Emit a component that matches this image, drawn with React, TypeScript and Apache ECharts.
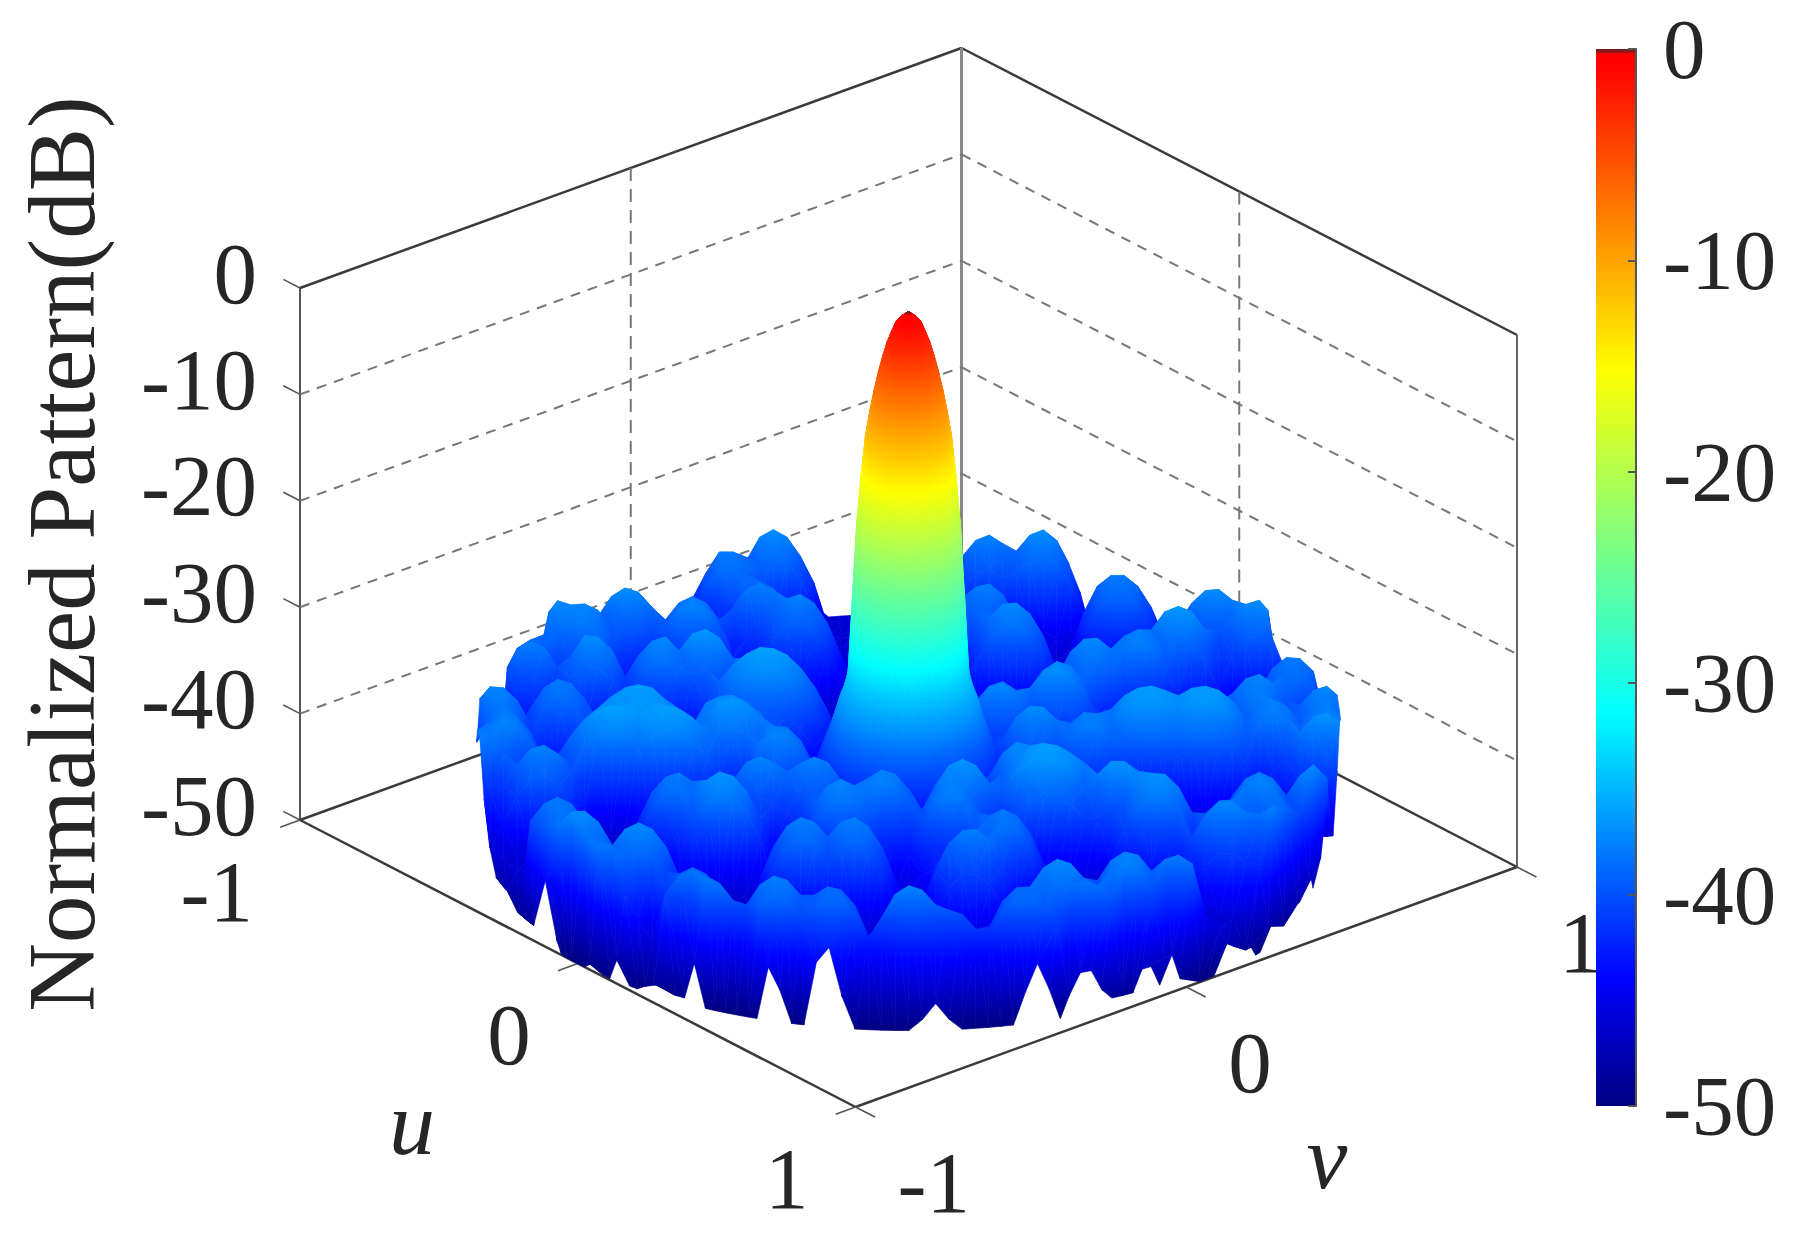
import React, { useEffect, useRef } from 'react'
import * as echarts from 'echarts'

const zTicks = [0, -10, -20, -30, -40, -50]
const uTicks = [-1, 0, 1]
const vTicks = [-1, 0, 1]
const zGridLines = [-10, -20, -30, -40]

// colour bar knots: [dB, colour]
const barKnots: [number, string][] = [
    [-50, '#000080'],
    [-44, '#0000ff'],
    [-31.4, '#00ffff'],
    [-15.2, '#ffff00'],
    [-0.7, '#ff0000'],
    [-0.25, '#ff0000'],
    [-0.1, '#7a1c1c'],
    [0, '#7a1c1c'],
]

// main lobe, read as a radial profile
const lobeRadii = [0, 0.01, 0.02, 0.03, 0.04, 0.05, 0.06, 0.07, 0.08, 0.09, 0.1, 0.11, 0.12, 0.13, 0.14, 0.15, 0.16, 0.18, 0.2, 0.22, 0.24, 0.26]
const lobeDb = [0, -0.3, -0.6, -1.1, -2, -3, -4.3, -5.8, -7.5, -9.5, -11.8, -15.5, -20, -27, -34, -35.5, -36.5, -39, -41, -43, -45, -46.5]

// side lobes in dB, one row per depth step on screen (back to front), each row centred on the middle column
const surfaceRows: number[][] = [
    [-42.5, -41, -40, -41, -42.5, -45, -46, -46, -46, -46, -46, -46, -46, -46, -46, -44, -41.5, -40, -40, -40.5, -41, -40.5, -40, -41, -42.5],
    [-46, -44, -42.5, -42, -39.5, -37.7, -37, -37.7, -39.5, -42, -46, -46, -46, -46, -46, -46, -46, -46, -45, -42, -39.5, -38, -37.5, -38.3, -39, -37.5, -37, -38, -40, -42.5, -46, -46, -46],
    [-46, -46, -46, -46, -42, -40, -38, -38, -38.7, -39, -38.4, -39, -40.6, -43.4, -46, -46, -46, -46, -46, -46, -46, -46, -46, -44, -41.5, -40, -39.7, -40.5, -40, -38.8, -38.4, -39, -41, -44, -46, -46, -46, -46, -46, -46, -46],
    [-46, -46, -46, -46, -46, -46, -42.7, -40, -38.7, -38.3, -39, -41, -43.5, -44.5, -45, -46, -46, -46, -46, -46, -46, -46, -46, -46, -46, -46, -46, -46, -46, -46, -46, -44.7, -44.3, -45, -46, -45, -42.7, -41.5, -41.4, -42.4, -44.5, -46, -46, -46, -46],
    [-46, -46, -46, -46, -46, -46, -46, -46, -46, -45, -43.6, -40.8, -39.2, -38.6, -39.2, -40.8, -43.6, -46, -46, -46, -46, -46, -46, -46, -46, -46, -46, -44.5, -42, -41, -41, -42, -44, -46, -46, -46, -45, -41.5, -39, -38, -38, -39, -41, -44, -46, -46, -45, -45, -46],
    [-46, -46, -45, -42, -40, -39, -39.5, -41, -43.5, -43.5, -42.7, -43.3, -42.7, -40, -38.3, -37.7, -38.3, -40, -41, -41.5, -43.4, -46, -46, -46, -46, -46, -46, -46, -45, -41.5, -39, -38, -37.7, -38.7, -41, -44, -46, -46, -46, -42.4, -40, -38.8, -38.7, -39.7, -42, -45.5, -42.6, -40.2, -39, -38.9, -40, -42.4, -46],
    [-46, -41, -40.4, -40.6, -41, -39.7, -37.8, -37, -37.4, -38.8, -40, -38.4, -37.8, -38.4, -40, -43, -41.9, -41.3, -39.4, -38, -37.6, -38.4, -40.3, -43.3, -46, -46, -46, -46, -46, -46, -46, -42, -40.3, -39, -39, -40, -41, -42, -44, -46, -46, -46, -46, -46, -46, -46, -46, -43, -41, -38.4, -37.2, -37.1, -38.1, -39.6, -39.2, -40, -42],
    [-40, -38, -37.1, -37.5, -37.4, -38, -39.7, -39.2, -39.6, -41, -39.6, -38, -37.4, -38, -39.6, -42.4, -46, -43.3, -40.7, -39.3, -39, -39.7, -41.6, -44.5, -46, -46, -46, -46, -46, -46, -46, -46, -44.5, -41, -38.6, -37.4, -37.3, -38.3, -40.4, -43.7, -46, -46, -46, -46, -46, -44, -41.4, -39.8, -39.2, -39.8, -39.9, -39.8, -38.8, -37.4, -37, -37.8, -40],
    [-46, -46, -42, -39.2, -38.4, -38, -37.8, -38.4, -40, -42.9, -46, -46, -43.6, -42, -41.4, -42, -43.6, -46, -46, -46, -46, -45, -44.8, -45.6, -46, -46, -46, -46, -46, -46, -46, -46, -46, -46, -45.4, -41.9, -39.5, -38.3, -38.2, -39.2, -41.3, -44.6, -46, -46, -46, -44.2, -42.6, -41.5, -38.7, -37, -36.5, -37, -38.7, -41.5, -41, -39.6, -39.2, -40, -42, -45, -46],
    [-41, -39.2, -38.6, -39.2, -41, -41, -40, -39.9, -41.2, -44, -42.6, -41.2, -40.8, -40, -38.7, -38.3, -39.1, -41, -44, -46, -46, -46, -46, -46, -46, -46, -46, -46, -46, -46, -46, -46, -46, -46, -46, -46, -46, -46, -46, -46, -46, -44.6, -42.2, -41, -41, -40, -38.2, -37.6, -38.2, -38.9, -38.3, -38.9, -40.5, -43.3, -46, -46, -46, -46, -46, -46, -46],
    [-46, -43, -40, -38.3, -37.7, -38.3, -40, -39, -37.1, -37.2, -38.4, -41, -39, -37.6, -37.2, -38.5, -36.9, -36.5, -37.3, -39.2, -41.9, -41.4, -41.5, -42.1, -43.3, -45, -46, -46, -46, -46, -46, -46, -46, -46, -46, -46, -46, -46, -46, -46, -46, -46, -44.5, -41, -38.6, -37.4, -37.3, -38.3, -38.2, -37.6, -38.2, -40, -42.6, -46, -46, -46, -46, -46, -45, -43, -42, -42.1, -43.3, -45.7, -46],
    [-46, -46, -43.5, -41.9, -41.3, -41.9, -42, -39.9, -38.9, -39, -40.2, -42.6, -40.2, -38.5, -38.1, -38.9, -39.6, -39.2, -40, -39.2, -38.2, -37.6, -37.7, -38.3, -39.5, -41.2, -43.5, -46, -46, -46, -46, -46, -46, -46, -46, -46, -46, -46, -46, -46, -46, -45, -43, -41.9, -39.5, -38.3, -38.2, -39.2, -41.3, -42, -42.6, -46, -46, -46, -46, -46, -46, -44.4, -41.1, -39, -38, -38.1, -39.3, -41.7, -45],
    [-46, -46, -46, -46, -44.6, -42.7, -41.9, -42.2, -43.7, -46, -46, -46, -45.3, -43.9, -43.5, -44.3, -44.2, -41.4, -39.2, -37.6, -36.6, -36, -36.1, -36.7, -37.9, -39.6, -41.9, -44.8, -46, -46, -46, -46, -46, -46, -46, -46, -46, -45.3, -43.9, -43.5, -43, -40, -38.1, -37.3, -37.7, -39.1, -41.7, -45.3, -46, -46, -46, -46, -46, -46, -46, -45.8, -43.2, -41.8, -41.4, -39.4, -38.4, -38.5, -39.7, -42.1, -45.5],
    [-42.5, -41.5, -41.6, -42.8, -40.6, -38.7, -37.9, -38.3, -39.7, -42.1, -43.6, -42.8, -42.5, -42.8, -43.6, -44.9, -44.9, -42, -39.9, -38.3, -37.3, -36.8, -36.8, -37.4, -38.6, -40.3, -42.6, -45.5, -46, -46, -46, -46, -46, -46, -46, -46, -42.5, -39.9, -38.5, -38.1, -38.9, -38.7, -37.3, -36.9, -37.5, -39.1, -41.8, -45.5, -44.8, -43.4, -43, -43.6, -43.9, -43.4, -43, -41.8, -39.2, -37.8, -37.4, -38.2, -39.8, -41.5, -41.8, -41.4, -42],
    [-38.6, -37.5, -37.6, -38.8, -41, -39.1, -38.3, -38.7, -40.1, -40.7, -39.3, -38.5, -38.2, -38.5, -39.3, -40.7, -42, -40.8, -40.2, -40.1, -40, -39.6, -39.7, -40.3, -41.5, -43.2, -45.5, -46, -46, -46, -46, -46, -46, -46, -46, -45.3, -41.6, -39, -37.6, -37.2, -38.1, -40, -41.3, -40.9, -41.4, -42.9, -42.5, -40.7, -39.4, -38.7, -38.5, -38.9, -39.4, -38.7, -38.5, -38.9, -39.5, -38.2, -37.8, -38.6, -40.2, -39.2, -37.8, -37.4, -38.2],
    [-41, -38.6, -38, -39.2, -41.6, -44, -44, -43.2, -40.7, -38.7, -37.3, -36.5, -36.2, -36.5, -37.6, -38.7, -40.7, -37.9, -37.3, -37.2, -37.8, -38.8, -40.4, -42.6, -45.4, -46, -46, -46, -46, -46, -46, -46, -46, -46, -46, -46, -45, -42.6, -41.1, -40.9, -40.3, -39.3, -39.4, -41.1, -42.8, -42, -40.3, -38.5, -37.2, -36.5, -36.3, -36.7, -37.2, -36.5, -36.3, -36.7, -37.7, -39.2, -38.1, -37.6, -38.2, -39.6, -38.2, -37.8, -38.6],
    [-40.5, -38.6, -37.8, -38.2, -39.6, -42.2, -43.1, -39.8, -38.3, -37.3, -36.9, -36.8, -36.4, -36.7, -37.1, -37.4, -39, -38, -36.8, -36.5, -37, -38, -39.6, -42.9, -44, -46, -46, -46, -46, -46, -46, -46, -46, -46, -46, -46, -46, -46, -42.7, -40.2, -38.1, -37.1, -37.2, -38.4, -38.7, -37.7, -37.8, -38.5, -37.2, -36.5, -36.3, -36.7, -37.2, -36.5, -36.3, -36.7, -37.7, -39.2, -38.2, -37.6, -38.2, -39.4, -38, -37.6, -38.3],
    [-38.3, -38, -37.4, -37.8, -39.2, -41.8, -40.7, -38.9, -37.4, -36.4, -36, -36.2, -36.6, -36.3, -36, -36.3, -37.1, -38.2, -38.2, -38.1, -38.6, -38.9, -37.9, -38, -39.2, -41.6, -45, -46, -46, -46, -46, -46, -46, -46, -46, -46, -46, -46, -44.3, -42.3, -40.3, -39.3, -39.4, -40.8, -38.7, -37.7, -37.8, -39, -39.4, -38.7, -38.5, -38.9, -39.4, -38.7, -38.5, -38.9, -39.9, -41.4, -44, -42, -41, -38.5, -37, -36.7, -37.5],
    [-38, -38.1, -39.3, -41.6, -40.6, -40.2, -42.4, -40.3, -38.8, -37.8, -37.4, -37.6, -38.2, -37.4, -37.1, -37.4, -38.2, -39.6, -41.7, -43.9, -42.5, -38.5, -37.5, -37.6, -38.8, -41.2, -44.7, -46, -46, -46, -46, -46, -46, -46, -46, -46, -46, -46, -43.4, -41.3, -40.3, -40.4, -41.8, -44, -43.1, -42.1, -42.2, -43.4, -46, -46, -46, -46, -46, -46, -46, -46, -46, -46, -46, -46, -44, -42.1, -40.7, -40.3, -41],
    [-42.5, -42.3, -41.5, -39.3, -37.9, -37.5, -38.3, -40.2, -43.2, -46, -46, -46, -46, -46, -46, -46, -46, -46, -44.3, -41.5, -39.9, -39.3, -39.4, -40.6, -41, -40.2, -40.8, -42.4, -45.2, -46, -46, -46, -46, -46, -46, -46, -46, -43.6, -40.3, -38.2, -37.2, -37.5, -38.2, -38.4, -38.9, -40.2, -42.4, -44, -44, -45, -46, -46, -46, -46, -46, -46, -46, -46, -46, -46, -46, -46, -46, -46, -46],
    [-46, -46, -43.7, -41.1, -39.7, -39.3, -40.1, -42, -45, -46, -46, -46, -46, -43.7, -42.3, -41.9, -42.7, -44.6, -42.5, -39.7, -38, -37.5, -38, -38.9, -38.1, -37.5, -38, -39.7, -42.5, -43, -42, -42.4, -44, -44.7, -42, -40.3, -39.7, -40.3, -41, -39.1, -37.6, -36.6, -36.2, -36.4, -37.1, -38, -39.3, -38.1, -38, -39, -41.1, -44.4, -46, -46, -46, -46, -44.9, -43.3, -42.7, -43.3, -41.8, -40.3, -39.3, -39.4, -41],
    [-48, -47, -46, -46, -46, -46, -46, -46, -46, -46, -46, -46, -42.3, -39.7, -38.3, -37.9, -38.7, -40.7, -40.3, -40.7, -40.8, -40.2, -40.8, -41.4, -39.9, -39.3, -39.9, -41.4, -40.3, -38.4, -37.6, -38, -39.4, -41.6, -39, -37.2, -36.6, -37.2, -38.9, -39.3, -37.8, -36.8, -36.4, -36.6, -37.3, -39, -38, -36.8, -36.8, -37.7, -39.5, -40.5, -42, -46, -46, -42.8, -40, -38.4, -37.8, -38.4, -40, -38.1, -37.1, -46, -46],
    [-48, -48, -48, -46, -46, -46, -46, -46, -46, -46, -46, -46, -42.7, -40.1, -38.7, -38.3, -38.8, -37.5, -36.7, -37.1, -38.5, -41.1, -44.7, -46, -42.4, -39.6, -38, -37.4, -38, -38, -37.6, -38, -39.4, -40.3, -38.4, -37.6, -37.9, -39.4, -41.5, -43, -40.3, -39.3, -38.9, -39.1, -39.8, -41, -41.1, -39.9, -39.8, -37.8, -36.8, -36.9, -38.1, -40.5, -44.9, -44, -41, -38, -37.4, -38, -39.7, -40.5, -47, -47, -48],
    [-49, -49, -40.2, -38.6, -38, -38.6, -40.2, -43, -46, -46, -46, -46, -46, -43.3, -40.3, -38.4, -37.6, -38, -39.4, -42, -45.7, -46, -42.8, -40, -38.4, -37.8, -38.4, -40, -42, -42.6, -43.3, -40.3, -38.4, -37.6, -38, -39.4, -42.1, -42.5, -43, -44.8, -46, -46, -46, -46, -46, -44, -40.8, -38.7, -37.7, -37.8, -39, -41.9, -39.5, -38.3, -38.2, -39.2, -39.4, -38.6, -39, -48, -48],
    [-49, -49, -49, -39.6, -38, -38.6, -39.3, -40.3, -42.4, -46, -46, -46, -46, -46, -46, -46, -46, -46, -46, -46, -44, -42.1, -41.3, -41.7, -43, -41.7, -41.3, -42.1, -44, -46, -46, -44, -42.4, -42, -43, -40.2, -38.6, -38, -38.6, -40.2, -43, -46, -46, -46, -46, -46, -46, -46, -43.6, -43.7, -44, -40.6, -38.6, -37.4, -37.3, -38.3, -38.5, -37.7, -49, -47, -47],
    [-44, -43.5, -38.4, -37.2, -37.1, -38.1, -40.2, -40.8, -40.2, -40.8, -42.4, -45.3, -46, -46, -46, -46, -46, -43.4, -40.4, -38.5, -37.7, -38.1, -39.5, -38.1, -37.7, -38.5, -40.4, -43.4, -46, -46, -42.7, -40.3, -39.1, -39, -39.1, -38, -38.6, -40.2, -44, -46, -46, -46, -46, -46, -46, -46, -46, -46, -46, -44.6, -42.2, -41, -41, -41.9, -42.1, -48, -48],
    [-49, -50, -50, -50, -38, -38.6, -39.3, -37.7, -37.1, -37.7, -39.3, -42.1, -46, -46, -46, -46, -46, -44.3, -41.3, -39.4, -38.6, -39, -40.4, -39.5, -38.6, -39.4, -41.3, -44.3, -46, -44.9, -41.4, -39, -37.8, -37.7, -38.7, -40.9, -44.2, -46, -46, -46, -46, -46, -46, -46, -46, -46, -46, -46, -46, -46, -46, -46, -46, -49, -49, -50, -50],
    [-50, -50, -49.5, -38.1, -38.2, -38.9, -38.4, -39, -40.6, -43.4, -44.5, -45, -46, -46, -46, -46, -46, -46, -46, -46, -46, -46, -46, -46, -46, -46, -46, -46, -44.5, -42.1, -40.9, -40.8, -41.8, -44, -46, -46, -46, -46, -46, -46, -44.7, -42.8, -42, -42.4, -43.7, -42.3, -41.9, -42.7, -44.6, -46, -47.5, -48, -48],
    [-50, -50, -48, -41.6, -44, -46, -41.3, -39.7, -39.1, -39.7, -41.3, -44.1, -46, -46, -46, -46, -46, -46, -46, -46, -46, -46, -46, -46, -46, -46, -46, -46, -46, -46, -46, -46, -46, -43.5, -41.6, -40.8, -41.2, -42.6, -40.3, -38.4, -37.6, -37.9, -39.4, -38.3, -37.9, -38.7, -50, -50, -50],
    [-50, -50, -49.5, -49, -40.4, -38.8, -38.2, -38.8, -40.5, -43.5, -44.5, -42.1, -41.3, -41.7, -43.1, -44.3, -43.1, -43.2, -44.4, -46, -46, -46, -46, -46, -46, -46, -46, -46, -46, -44.4, -43.2, -39.9, -38, -37.2, -37.6, -39, -40.3, -38.4, -37.6, -38, -40, -46.5, -46.5, -49, -49],
    [-49, -49, -49.5, -49.5, -46, -38, -38.4, -40, -40.4, -38.5, -37.7, -38.1, -39.5, -39.5, -38.7, -39, -40.4, -43.2, -42.9, -41, -40.2, -40.6, -42, -44.7, -45, -46, -42.4, -40, -38.8, -38.7, -38.9, -38.1, -38.5, -38.2, -38.6, -40, -49, -49, -47, -47, -49],
    [-50, -50, -50, -50, -50, -39.4, -38.6, -39, -40.4, -39.7, -38.7, -38.8, -40, -42.4, -40.5, -38.3, -37.5, -37.9, -39.3, -39.8, -40.2, -41.6, -41.5, -40, -38.8, -38.7, -39.7, -41.3, -48, -46, -46, -48, -49],
    [-50, -45, -47, -50, -50, -44, -42.5, -47, -50, -50, -50, -50, -50, -49, -47.5, -49, -50, -50, -50, -50, -50, -47, -44.5, -47, -50],
]

// affine view of the MATLAB box, from the pixel positions of its corners
const FRONT_X = 855.5
const FRONT_Y = 1107
const U_DX = 277.75
const U_DY = 143.5
const V_DX = 330.75
const V_DY = -120
const Z_DY = -10.64

const project = (u: number, v: number, z: number): [number, number] => [
    FRONT_X + (u - 1) * U_DX + (v + 1) * V_DX,
    FRONT_Y + (u - 1) * U_DY + (v + 1) * V_DY + (z + 50) * Z_DY,
]

const hexToRgb = (hex: string) => [
    parseInt(hex.slice(1, 3), 16),
    parseInt(hex.slice(3, 5), 16),
    parseInt(hex.slice(5, 7), 16),
]

const colorAt = (db: number) => {
    const z = Math.max(-50, Math.min(0, db))
    for (let i = 1; i < barKnots.length; i++) {
        if (z <= barKnots[i][0]) {
            const t = (z - barKnots[i - 1][0]) / (barKnots[i][0] - barKnots[i - 1][0])
            const a = hexToRgb(barKnots[i - 1][1])
            const b = hexToRgb(barKnots[i][1])
            return `rgb(${a.map((c, n) => Math.round(c + (b[n] - c) * t)).join(',')})`
        }
    }
    return barKnots[barKnots.length - 1][1]
}

type Vertex = [number, number, number]
type Tri = { pts: Vertex[]; key: number }

const makeTri = (a: Vertex, b: Vertex, c: Vertex): Tri => ({
    pts: [a, b, c],
    key: (project(a[0], a[1], -50)[1] + project(b[0], b[1], -50)[1] + project(c[0], c[1], -50)[1]) / 3,
})

// rows and columns run along the screen, so turn them into u, v (view is 50 degrees off the u axis)
const COS50 = Math.cos((50 * Math.PI) / 180)
const SIN50 = Math.sin((50 * Math.PI) / 180)
const COLUMNS_PER_UNIT = 32
const ROWS_PER_UNIT = 16

const rowVertex = (j: number, k: number, z: number): Vertex => {
    let x = j / COLUMNS_PER_UNIT
    let d = k / ROWS_PER_UNIT
    const r = Math.hypot(x, d)
    if (r > 1) {
        x /= r
        d /= r
    }
    return [x * COS50 + d * SIN50, x * SIN50 - d * COS50, z]
}

const buildTris = () => {
    const tris: Tri[] = []
    for (let row = 0; row < surfaceRows.length - 1; row++) {
        const top = surfaceRows[row]
        const bottom = surfaceRows[row + 1]
        const k = row - ROWS_PER_UNIT
        const half = Math.min(top.length, bottom.length) >> 1
        const topMid = top.length >> 1
        const botMid = bottom.length >> 1
        for (let j = -half; j < half; j++) {
            const a = rowVertex(j, k, top[topMid + j])
            const b = rowVertex(j + 1, k, top[topMid + j + 1])
            const c = rowVertex(j + 1, k + 1, bottom[botMid + j + 1])
            const d = rowVertex(j, k + 1, bottom[botMid + j])
            if (Math.abs(a[2] - c[2]) < Math.abs(b[2] - d[2])) {
                tris.push(makeTri(a, b, c), makeTri(a, c, d))
            } else {
                tris.push(makeTri(a, b, d), makeTri(b, c, d))
            }
        }
    }
    const sectors = 36
    for (let i = 0; i < lobeRadii.length - 1; i++) {
        for (let s = 0; s < sectors; s++) {
            const t0 = (s / sectors) * 2 * Math.PI
            const t1 = ((s + 1) / sectors) * 2 * Math.PI
            const node = (r: number, t: number, z: number): Vertex => [r * Math.cos(t), r * Math.sin(t), z]
            const a = node(lobeRadii[i], t0, lobeDb[i])
            const b = node(lobeRadii[i], t1, lobeDb[i])
            const c = node(lobeRadii[i + 1], t1, lobeDb[i + 1])
            const d = node(lobeRadii[i + 1], t0, lobeDb[i + 1])
            if (i > 0) tris.push(makeTri(a, b, c))
            tris.push(makeTri(a, c, d))
        }
    }
    return tris.sort((p, q) => p.key - q.key)
}

// same as MATLAB's interp shading: a linear gradient across each flat triangle
const triFill = (p: number[][], z: number[]) => {
    const zMin = Math.min(...z)
    const zMax = Math.max(...z)
    if (zMax - zMin < 0.05) return colorAt(zMin)
    const dx1 = p[1][0] - p[0][0]
    const dy1 = p[1][1] - p[0][1]
    const dx2 = p[2][0] - p[0][0]
    const dy2 = p[2][1] - p[0][1]
    const dz1 = z[1] - z[0]
    const dz2 = z[2] - z[0]
    const det = dx1 * dy2 - dx2 * dy1
    if (Math.abs(det) < 0.01) return colorAt((zMin + zMax) / 2)
    const a = (dz1 * dy2 - dz2 * dy1) / det
    const b = (dx1 * dz2 - dx2 * dz1) / det
    const norm = a * a + b * b
    const start = p[z.indexOf(zMin)]
    const span = zMax - zMin
    const stops = [{ offset: 0, color: colorAt(zMin) }]
    barKnots.forEach(([db]) => {
        if (db > zMin && db < zMax) stops.push({ offset: (db - zMin) / span, color: colorAt(db) })
    })
    stops.push({ offset: 1, color: colorAt(zMax) })
    return new echarts.graphic.LinearGradient(
        start[0],
        start[1],
        start[0] + (a * span) / norm,
        start[1] + (b * span) / norm,
        stops,
        true
    )
}

type Segment = { from: Vertex; to: Vertex; color: string; width: number; dash?: number[] }

const buildSegments = () => {
    const solid = { color: '#3a3a3a', width: 2.5 }
    const grid = { color: '#777777', width: 2, dash: [10, 8] }
    const segs: Segment[] = [
        { from: [-1, -1, -50], to: [-1, -1, 0], color: '#555555', width: 2 },
        { from: [-1, -1, 0], to: [-1, 1, 0], ...solid },
        { from: [-1, 1, 0], to: [1, 1, 0], ...solid },
        { from: [1, 1, 0], to: [1, 1, -50], color: '#666666', width: 2 },
        { from: [-1, 1, 0], to: [-1, 1, -50], color: '#888888', width: 3 },
        { from: [-1, -1, -50], to: [1, -1, -50], ...solid },
        { from: [1, -1, -50], to: [1, 1, -50], ...solid },
        { from: [-1, -1, -50], to: [-1, 1, -50], ...solid },
        { from: [-1, 1, -50], to: [1, 1, -50], ...solid },
        { from: [-1, 0, 0], to: [-1, 0, -50], ...grid, dash: [13, 8] },
        { from: [0, 1, 0], to: [0, 1, -50], ...grid, dash: [13, 8] },
    ]
    zGridLines.forEach((z) => {
        segs.push({ from: [-1, -1, z], to: [-1, 1, z], ...grid })
        segs.push({ from: [-1, 1, z], to: [1, 1, z], ...grid })
    })
    zTicks.forEach((z) => segs.push({ from: [-1, -1, z], to: [-1.06, -1, z], color: '#555555', width: 1.6 }))
    uTicks.forEach((u) => segs.push({ from: [u, -1, -50], to: [u, -1.06, -50], color: '#555555', width: 1.6 }))
    vTicks.forEach((v) => segs.push({ from: [1, v, -50], to: [1.07, v, -50], color: '#555555', width: 1.6 }))
    return segs
}

const serif = '"Liberation Serif", "Times New Roman", serif'
const INK = '#262626'

const label = (text: string, x: number, y: number, size: number, align: string, extra: object = {}) => ({
    type: 'text',
    x,
    y,
    silent: true,
    style: {
        text,
        fill: INK,
        font: `${size}px ${serif}`,
        align,
        verticalAlign: 'middle',
        textAlign: align,
        textVerticalAlign: 'middle',
        ...extra,
    },
})

const buildLabels = () => {
    const items: object[] = []
    zTicks.forEach((z) => {
        const [x, y] = project(-1, -1, z)
        items.push(label(String(z), x - 43, y - 15, 87, 'right'))
    })
    uTicks.forEach((u) => {
        const [x, y] = project(u, -1, -50)
        items.push(label(String(u), x - 47, y + 71, 87, 'right'))
    })
    vTicks.forEach((v) => {
        const [x, y] = project(1, v, -50)
        items.push(label(String(v), x + 42, y + 75, 87, 'left'))
    })
    items.push(label('u', 412, 1123, 92, 'center', { font: `italic 92px ${serif}` }))
    items.push(label('v', 1327, 1157, 92, 'center', { font: `italic 92px ${serif}` }))
    items.push({
        ...label('Normalized Pattern(dB)', 62, 554, 95, 'center'),
        rotation: Math.PI / 2,
    })
    return items
}

const App: React.FC = () => {
    const chartRef = useRef<HTMLDivElement>(null)

    useEffect(() => {
        const chart = echarts.init(chartRef.current, undefined, { renderer: 'svg' })
        const tris = buildTris()
        const segments = buildSegments()

        const option = {
            animation: false,
            backgroundColor: '#ffffff',
            grid: [
                { left: 0, top: 0, width: 1812, height: 1251 },
                { left: 1596, top: 49, width: 40, height: 1057 },
            ],
            xAxis: [
                { type: 'value', gridIndex: 0, min: 0, max: 1812, show: false },
                { type: 'value', gridIndex: 1, min: 0, max: 1, show: false },
            ],
            yAxis: [
                { type: 'value', gridIndex: 0, min: 0, max: 1251, inverse: true, show: false },
                {
                    type: 'value',
                    gridIndex: 1,
                    min: -50,
                    max: 0,
                    interval: 10,
                    position: 'right',
                    z: 5,
                    axisLine: { show: true, onZero: false, lineStyle: { color: '#555555', width: 2 } },
                    axisTick: { show: true, inside: true, length: 8, lineStyle: { color: '#555555', width: 2 } },
                    splitLine: { show: false },
                    axisLabel: { margin: 27, color: INK, fontSize: 85, fontFamily: serif },
                },
            ],
            graphic: buildLabels(),
            series: [
                {
                    type: 'custom',
                    coordinateSystem: 'cartesian2d',
                    xAxisIndex: 0,
                    yAxisIndex: 0,
                    silent: true,
                    clip: false,
                    progressive: 0,
                    data: segments.map((_, i) => [i, i]),
                    z: 1,
                    renderItem: (params: any, api: any) => {
                        const seg = segments[params.dataIndex]
                        const a = api.coord(project(seg.from[0], seg.from[1], seg.from[2]))
                        const b = api.coord(project(seg.to[0], seg.to[1], seg.to[2]))
                        return {
                            type: 'line',
                            shape: { x1: a[0], y1: a[1], x2: b[0], y2: b[1] },
                            style: { stroke: seg.color, lineWidth: seg.width, lineDash: seg.dash },
                        }
                    },
                },
                {
                    type: 'custom',
                    coordinateSystem: 'cartesian2d',
                    xAxisIndex: 0,
                    yAxisIndex: 0,
                    silent: true,
                    clip: false,
                    progressive: 0,
                    data: tris.map((_, i) => [i, i]),
                    z: 2,
                    renderItem: (params: any, api: any) => {
                        const tri = tris[params.dataIndex]
                        const points = tri.pts.map((p) => api.coord(project(p[0], p[1], p[2])))
                        const fill = triFill(points, tri.pts.map((p) => p[2]))
                        return {
                            type: 'polygon',
                            shape: { points },
                            style: { fill, stroke: fill, lineWidth: 0.7, lineJoin: 'round' },
                        }
                    },
                },
                {
                    type: 'custom',
                    coordinateSystem: 'cartesian2d',
                    xAxisIndex: 1,
                    yAxisIndex: 1,
                    silent: true,
                    data: [[0, 0]],
                    z: 3,
                    renderItem: (_: any, api: any) => {
                        const top = api.coord([0, 0])
                        const bottom = api.coord([1, -50])
                        const fill = new echarts.graphic.LinearGradient(
                            0,
                            1,
                            0,
                            0,
                            barKnots.map(([db, color]) => ({ offset: (db + 50) / 50, color }))
                        )
                        return {
                            type: 'rect',
                            shape: { x: top[0], y: top[1], width: bottom[0] - top[0], height: bottom[1] - top[1] },
                            style: { fill },
                        }
                    },
                },
            ],
        }

        chart.setOption(option)

        return () => {
            chart.dispose()
        }
    }, [])

    return <div ref={chartRef} style={{ position: 'fixed', left: 0, top: 0, width: '1812px', height: '1251px' }} />
}

export default App
